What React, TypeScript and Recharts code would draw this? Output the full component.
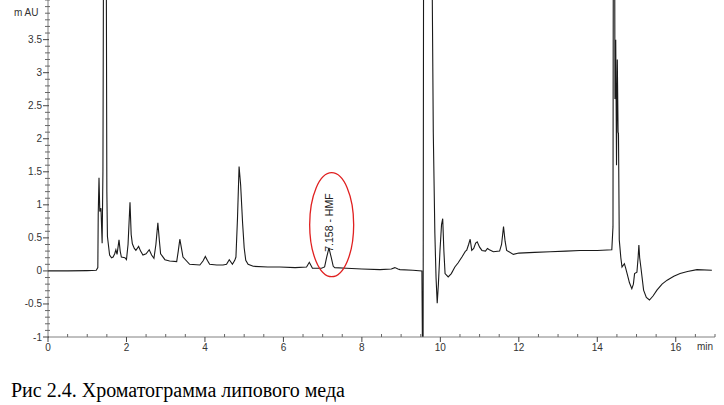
import React from 'react';
import { LineChart, Line, XAxis, YAxis, ReferenceDot } from 'recharts';

// retention time, min
const time = [
  0, 0.5, 1.0, 1.23, 1.27, 1.28, 1.3, 1.32, 1.35, 1.38, 1.4, 1.42, 1.48, 1.5, 1.515,
  1.57, 1.62, 1.66, 1.7, 1.73, 1.76, 1.81, 1.84, 1.87, 1.96, 2.0, 2.04, 2.09, 2.12, 2.15,
  2.2, 2.24, 2.31, 2.36, 2.42, 2.5, 2.58, 2.64, 2.7, 2.75, 2.8, 2.84, 2.87, 2.98, 3.1,
  3.28, 3.32, 3.36, 3.4, 3.44, 3.61, 3.87, 3.95, 4.01, 4.06, 4.12, 4.3, 4.46, 4.55, 4.62,
  4.7, 4.76, 4.79, 4.83, 4.87, 4.91, 4.96, 5.0, 5.04, 5.1, 5.23, 5.6, 5.91, 6.3, 6.59,
  6.66, 6.74, 6.97, 7.05, 7.1, 7.16, 7.22, 7.27, 7.31, 7.61, 8.0, 8.46, 8.75, 8.84, 8.92,
  8.97, 9.3, 9.53, 9.545, 9.56, 9.575, 9.78, 9.79, 9.82, 9.86, 9.89, 9.92, 9.95, 9.99, 10.03,
  10.06, 10.09, 10.12, 10.2, 10.28, 10.37, 10.45, 10.55, 10.6, 10.64, 10.67, 10.72, 10.76, 10.8, 10.85,
  10.9, 10.94, 11.0, 11.06, 11.15, 11.2, 11.25, 11.35, 11.51, 11.56, 11.61, 11.65, 11.69, 11.86, 12.0,
  12.4, 12.8, 13.2, 13.56, 14.0, 14.37, 14.4, 14.41, 14.44, 14.45, 14.47, 14.49, 14.51, 14.53, 14.54,
  14.56, 14.6, 14.63, 14.69, 14.72, 14.76, 14.82, 14.88, 14.92, 14.95, 15.01, 15.04, 15.06, 15.08, 15.11,
  15.18, 15.25, 15.33, 15.42, 15.52, 15.65, 15.78, 15.95, 16.11, 16.3, 16.54, 16.92,
];

// absorbance, mAU
const absorbance = [
  0, 0, 0.005, 0.01, 0.05, 0.85, 1.41, 0.9, 0.95, 0.42, 1.5, 6, 6, 1.2, 0.52,
  0.24, 0.2, 0.21, 0.26, 0.32, 0.25, 0.47, 0.3, 0.21, 0.2, 0.17, 0.4, 1.04, 0.55, 0.41,
  0.34, 0.31, 0.37, 0.3, 0.24, 0.26, 0.32, 0.24, 0.19, 0.4, 0.73, 0.45, 0.26, 0.17, 0.15,
  0.14, 0.3, 0.48, 0.35, 0.21, 0.1, 0.09, 0.15, 0.22, 0.16, 0.1, 0.09, 0.09, 0.1, 0.17,
  0.1, 0.16, 0.21, 0.8, 1.58, 1.3, 0.72, 0.35, 0.16, 0.1, 0.07, 0.06, 0.06, 0.05, 0.06,
  0.13, 0.04, 0.04, 0.06, 0.2, 0.35, 0.2, 0.07, 0.05, 0.04, 0.03, 0.02, 0.03, 0.05, 0.03,
  0.02, 0.01, 0, -1.3, -1.3, 6, 6, 4.5, 2.09, 0.57, -0.1, -0.49, -0.2, 0.3, 0.7,
  0.79, 0.3, -0.04, -0.09, -0.04, 0.06, 0.12, 0.21, 0.26, 0.3, 0.31, 0.4, 0.48, 0.31, 0.34,
  0.42, 0.44, 0.36, 0.31, 0.3, 0.34, 0.32, 0.29, 0.3, 0.4, 0.67, 0.45, 0.31, 0.25, 0.27,
  0.28, 0.29, 0.3, 0.31, 0.31, 0.32, 0.67, 6, 6, 2.6, 3.5, 1.6, 3.2, 2.1, 2.08,
  0.47, 0.2, 0.06, 0.11, 0.05, -0.04, -0.18, -0.27, -0.2, -0.04, -0.02, 0.2, 0.39, 0.2, 0.06,
  -0.29, -0.4, -0.44, -0.38, -0.29, -0.2, -0.14, -0.08, -0.04, -0.01, 0.02, 0.01,
];

const xMajor = [0, 2, 4, 6, 8, 10, 12, 14, 16];
const xTicks = [
  0, 0.5, 1, 1.5, 2, 2.5, 3, 3.5, 4, 4.5, 5, 5.5, 6, 6.5, 7, 7.5, 8, 8.5,
  9, 9.5, 10, 10.5, 11, 11.5, 12, 12.5, 13, 13.5, 14, 14.5, 15, 15.5, 16, 16.5, 17,
];
const yMajor = [-1, -0.5, 0, 0.5, 1, 1.5, 2, 2.5, 3, 3.5];
const yTicks = Array.from({ length: 52 }, (_, i) => Math.round((-1 + i * 0.1) * 10) / 10);

const hmfPeak = { t: 7.158, v: 0.35, label: '7.158 - HMF' };

const data = time.map((t, i) => ({ t, v: absorbance[i] }));

const FONT = "Arial, 'Liberation Sans', sans-serif";

const XTick = ({ x, y, payload }: any) => {
  const major = xMajor.includes(payload.value);
  return (
    <g>
      {major ? (
        <line x1={x} x2={x} y1={y} y2={y + 5} stroke="#444" />
      ) : (
        <line x1={x} x2={x} y1={y - 3} y2={y} stroke="#666" />
      )}
      {major && (
        <text x={x} y={y + 14} textAnchor="middle" fontSize={10} fill="#333" fontFamily={FONT}>
          {payload.value}
        </text>
      )}
    </g>
  );
};

const YTick = ({ x, y, payload }: any) => {
  const major = yMajor.includes(payload.value);
  return (
    <g>
      {major ? (
        <line x1={x - 5} x2={x + 1} y1={y} y2={y} stroke="#444" />
      ) : (
        <line x1={x - 3} x2={x + 2} y1={y} y2={y} stroke="#666" />
      )}
      {major && (
        <text x={x - 6} y={y + 3.5} textAnchor="end" fontSize={10} fill="#333" fontFamily={FONT}>
          {payload.value}
        </text>
      )}
    </g>
  );
};

const App: React.FC = () => {
  return (
    <div style={{ position: 'absolute', left: 0, top: 0, width: 724, height: 405, background: '#fff' }}>
      <LineChart width={724} height={360} data={data} margin={{ top: 0, right: 9, bottom: 0, left: 0 }}>
        <XAxis
          dataKey="t"
          type="number"
          domain={[0, 17]}
          ticks={xTicks}
          interval={0}
          tickSize={0}
          tickMargin={0}
          tickLine={false}
          tick={<XTick />}
          stroke="#808080"
          height={23}
        />
        <YAxis
          type="number"
          domain={[-1, 4.1]}
          ticks={yTicks}
          interval={0}
          allowDataOverflow
          tickSize={0}
          tickMargin={0}
          tickLine={false}
          tick={<YTick />}
          stroke="#808080"
          width={48}
        />
        <Line
          type="linear"
          dataKey="v"
          stroke="#1a1a1a"
          strokeWidth={1.1}
          dot={false}
          isAnimationActive={false}
        />
        <ReferenceDot
          x={7.23}
          y={0.7}
          shape={(p: any) => (
            <ellipse cx={p.cx} cy={p.cy} rx={22} ry={52} fill="none" stroke="#e02020" strokeWidth={1.3} />
          )}
        />
        <ReferenceDot
          x={hmfPeak.t}
          y={hmfPeak.v}
          shape={(p: any) => (
            <text
              x={p.cx - 4}
              y={p.cy}
              transform={`rotate(-90 ${p.cx} ${p.cy})`}
              dominantBaseline="central"
              fontSize={10.5}
              fill="#222"
              fontFamily={FONT}
            >
              {hmfPeak.label}
            </text>
          )}
        />
      </LineChart>
      <div style={{ position: 'absolute', left: 14, top: 8, fontFamily: FONT, fontSize: 10, lineHeight: '10px', color: '#333' }}>
        m AU
      </div>
      <div style={{ position: 'absolute', left: 697, top: 342, fontFamily: FONT, fontSize: 10, lineHeight: '10px', color: '#333' }}>
        min
      </div>
      <div
        style={{
          position: 'absolute',
          left: 11,
          top: 380,
          fontFamily: "'Liberation Serif', 'Times New Roman', serif",
          fontSize: 20,
          lineHeight: '20px',
          color: '#000',
          whiteSpace: 'nowrap',
        }}
      >
        Рис 2.4. Хроматограмма липового меда
      </div>
    </div>
  );
};

export default App;
